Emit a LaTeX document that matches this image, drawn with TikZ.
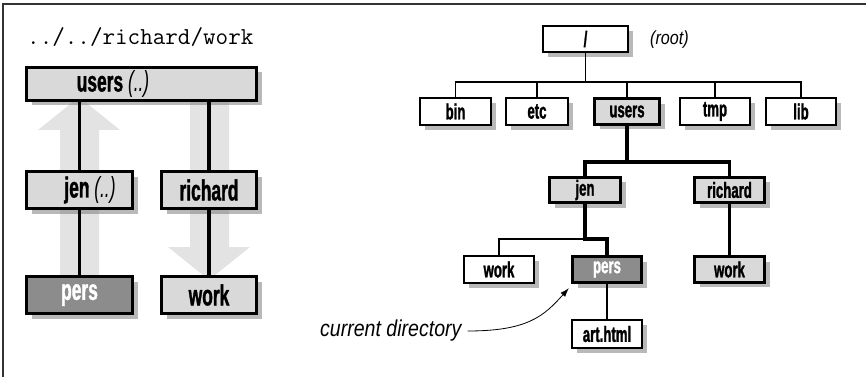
\documentclass[tikz,border=0pt]{standalone}
\usepackage{fontspec}
\newfontfamily\boxfont{Liberation Sans}[FakeStretch=0.6, BoldFeatures={FakeBold=1.2}]
\newfontfamily\notefont{Liberation Sans}[FakeStretch=0.85]
\usetikzlibrary{arrows.meta, shadows}

\begin{document}
\begin{tikzpicture}[
  x=1pt, y=-1pt,
  boxshadow/.style={drop shadow={shadow xshift=5pt, shadow yshift=-5pt, fill=black!55, opacity=0.5}},
  bigfont/.style={font=\boxfont\bfseries\fontsize{29}{30}\selectfont},
  smallfont/.style={font=\boxfont\bfseries\fontsize{22}{24}\selectfont},
  graybox/.style={draw, line width=3.2pt, fill=black!15, boxshadow, inner sep=0pt},
  curbox/.style={graybox, fill=black!45, text=white},
  filebox/.style={draw, line width=2pt, fill=white, boxshadow, inner sep=0pt, smallfont, minimum height=27pt},
  dirbox/.style={graybox, smallfont, minimum height=25.5pt},
  lbl/.style={bigfont, inner sep=0pt},
  note/.style={font=\notefont\itshape\fontsize{#1}{#1}\selectfont, inner sep=0pt},
  bigarrow/.style={fill=black!11},
  thinline/.style={line width=1.4pt},
  thickline/.style={line width=3.2pt}
]
\useasboundingbox (0,0) rectangle (867,377);
\draw[line width=2pt, black!80] (3,377) -- (3,4) -- (866,4);

\fill[bigarrow] (60,280) -- (60,130) -- (38,130) -- (79,97) -- (120,130) -- (99,130) -- (99,280) -- cycle;
\fill[bigarrow] (190,100) -- (190,247) -- (168,247) -- (209,280) -- (250,247) -- (229,247) -- (229,100) -- cycle;

\node[font=\ttfamily\fontsize{24.4}{26}\selectfont, anchor=base west, inner sep=0pt] (relpath) at (27,45) {../../richard/work};
\node[graybox, minimum width=230pt, minimum height=33pt] (lusers) at (141.5,84) {};
\node[lbl] (luserslbl) at (113,84) {users {\mdseries\itshape (..)}};
\node[graybox, minimum width=106pt, minimum height=37pt] (ljen) at (79.5,190) {};
\node[lbl] (ljenlbl) at (90,190) {jen {\mdseries\itshape (..)}};
\node[graybox, bigfont, minimum width=95pt, minimum height=37pt] (lrichard) at (209,190) {richard};
\node[curbox, bigfont, minimum width=106pt, minimum height=37pt] (lpers) at (79.5,295) {pers};
\node[graybox, bigfont, minimum width=95pt, minimum height=37pt] (lwork) at (209,295) {work};

\draw[thickline] (lusers.south -| ljen) -- (ljen);
\draw[thickline] (ljen) -- (lpers);
\draw[thickline] (lusers.south -| lrichard) -- (lrichard);
\draw[thickline] (lrichard) -- (lwork);

\node[filebox, minimum width=85pt, minimum height=26pt] (root) at (585.5,39) {/};
\node[note=19] (rootnote) at (669.5,40) {(root)};
\node[filebox, minimum width=71pt] (bin) at (455.5,111.5) {bin};
\node[filebox, minimum width=62pt] (etc) at (537,111.5) {etc};
\node[dirbox, minimum width=65pt] (users) at (627,111.5) {users};
\node[filebox, minimum width=70pt] (tmp) at (715,111.5) {tmp};
\node[filebox, minimum width=70pt] (lib) at (801,111.5) {lib};
\node[dirbox, minimum width=71pt] (jen) at (585,190) {jen};
\node[dirbox, minimum width=70pt] (richard) at (729.5,190) {richard};
\node[filebox, minimum width=70pt] (jwork) at (499,269.5) {work};
\node[curbox, smallfont, minimum width=69pt, minimum height=26pt] (pers) at (607,269.5) {pers};
\node[dirbox, minimum width=70pt] (rwork) at (729.5,269.5) {work};
\node[filebox, minimum width=70pt, minimum height=28pt] (art) at (607,334) {art.html};
\node[note=23, anchor=west] (curdir) at (320,331) {current directory};

\coordinate (rootbus) at (585.5,82);
\coordinate (usersbus) at (627,162);
\coordinate (jenbus) at (585,239);
\draw[thinline] (root) -- (rootbus);
\draw[thinline] (bin) |- (rootbus) -| (lib);
\foreach \n in {etc, users, tmp}
  \draw[thinline] (\n) -- (\n |- rootbus);
\draw[thickline] (users) -- (usersbus);
\draw[thickline] (jen) |- (usersbus) -| (richard);
\draw[thickline] (jen) -- (jenbus) -| (pers);
\draw[thinline] (jenbus) -| (jwork);
\draw[thickline] (richard) -- (rwork);
\draw[thinline] (pers) -- (art);
\draw[-{Latex[length=9pt, width=6pt]}, line width=0.8pt] ([xshift=6pt]curdir.east) .. controls +(60,0) and +(-25,28) .. ([shift={(-2,4)}]pers.south west);
\end{tikzpicture}
\end{document}
